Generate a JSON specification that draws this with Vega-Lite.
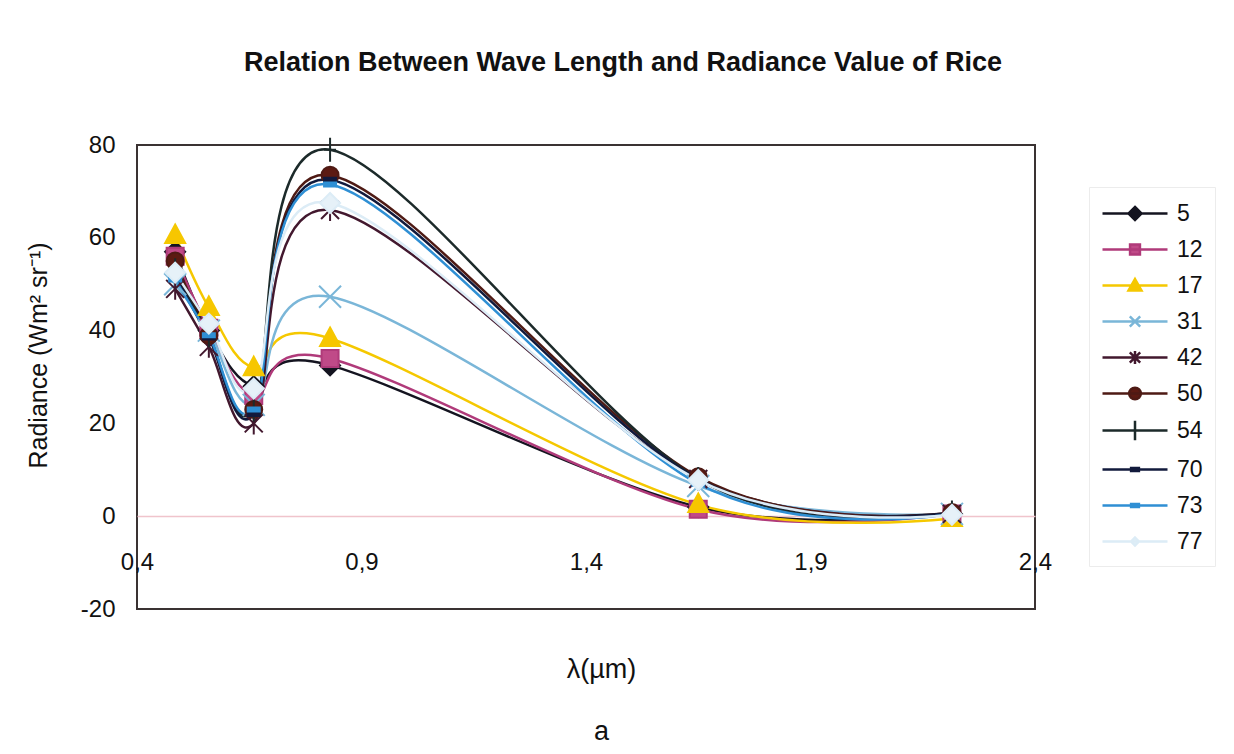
{
  "$schema": "https://vega.github.io/schema/vega-lite/v6.json",
  "width": 898,
  "height": 464,
  "autosize": "none",
  "padding": {"left": 137, "top": 145, "right": 199, "bottom": 145},
  "background": "white",
  "title": {
    "text": "Relation Between Wave Length and Radiance Value of Rice",
    "fontSize": 27,
    "fontWeight": "bold",
    "font": "Liberation Sans",
    "color": "#111111",
    "anchor": "middle",
    "baseline": "alphabetic",
    "offset": 35,
    "dx": 37
  },
  "config": {
    "font": "Liberation Sans",
    "view": {"stroke": "#3a3232", "strokeWidth": 2},
    "legend": {
      "orient": "none",
      "legendX": 952,
      "legendY": 42,
      "title": null,
      "symbolSize": 676,
      "symbolStrokeWidth": 2.5,
      "symbolOpacity": 1,
      "labelFontSize": 23,
      "labelColor": "#111111",
      "labelOffset": 47,
      "rowPadding": 9,
      "padding": 12,
      "strokeColor": "#ececec"
    }
  },
  "resolve": {
    "scale": {"stroke": "independent", "fill": "independent", "shape": "independent"},
    "legend": {"stroke": "independent", "fill": "independent", "shape": "independent"}
  },
  "data": {
    "values": [
      {"series": 5, "wl": 0.485, "rad": 57}, {"series": 5, "wl": 0.56, "rad": 40}, {"series": 5, "wl": 0.66, "rad": 28}, {"series": 5, "wl": 0.83, "rad": 32.5}, {"series": 5, "wl": 1.65, "rad": 2}, {"series": 5, "wl": 2.215, "rad": 0.5},
      {"series": 12, "wl": 0.485, "rad": 56}, {"series": 12, "wl": 0.56, "rad": 40.5}, {"series": 12, "wl": 0.66, "rad": 26}, {"series": 12, "wl": 0.83, "rad": 34}, {"series": 12, "wl": 1.65, "rad": 1.5}, {"series": 12, "wl": 2.215, "rad": 0.5},
      {"series": 17, "wl": 0.485, "rad": 60.5}, {"series": 17, "wl": 0.56, "rad": 45}, {"series": 17, "wl": 0.66, "rad": 32}, {"series": 17, "wl": 0.83, "rad": 38.3}, {"series": 17, "wl": 1.65, "rad": 2.5}, {"series": 17, "wl": 2.215, "rad": -0.5},
      {"series": 31, "wl": 0.485, "rad": 50}, {"series": 31, "wl": 0.56, "rad": 40}, {"series": 31, "wl": 0.66, "rad": 24}, {"series": 31, "wl": 0.83, "rad": 47.3}, {"series": 31, "wl": 1.65, "rad": 6.5}, {"series": 31, "wl": 2.215, "rad": 0.5},
      {"series": 42, "wl": 0.485, "rad": 49}, {"series": 42, "wl": 0.56, "rad": 36.5}, {"series": 42, "wl": 0.66, "rad": 20}, {"series": 42, "wl": 0.83, "rad": 66}, {"series": 42, "wl": 1.65, "rad": 8}, {"series": 42, "wl": 2.215, "rad": 0.5},
      {"series": 50, "wl": 0.485, "rad": 55}, {"series": 50, "wl": 0.56, "rad": 39}, {"series": 50, "wl": 0.66, "rad": 23}, {"series": 50, "wl": 0.83, "rad": 73.5}, {"series": 50, "wl": 1.65, "rad": 8.5}, {"series": 50, "wl": 2.215, "rad": 0.8},
      {"series": 54, "wl": 0.485, "rad": 53}, {"series": 54, "wl": 0.56, "rad": 39}, {"series": 54, "wl": 0.66, "rad": 23}, {"series": 54, "wl": 0.83, "rad": 79}, {"series": 54, "wl": 1.65, "rad": 8}, {"series": 54, "wl": 2.215, "rad": 0.8},
      {"series": 70, "wl": 0.485, "rad": 52}, {"series": 70, "wl": 0.56, "rad": 38.5}, {"series": 70, "wl": 0.66, "rad": 22}, {"series": 70, "wl": 0.83, "rad": 72.5}, {"series": 70, "wl": 1.65, "rad": 8}, {"series": 70, "wl": 2.215, "rad": 0.8},
      {"series": 73, "wl": 0.485, "rad": 51}, {"series": 73, "wl": 0.56, "rad": 39}, {"series": 73, "wl": 0.66, "rad": 23}, {"series": 73, "wl": 0.83, "rad": 71.5}, {"series": 73, "wl": 1.65, "rad": 7}, {"series": 73, "wl": 2.215, "rad": 0.5},
      {"series": 77, "wl": 0.485, "rad": 52.5}, {"series": 77, "wl": 0.56, "rad": 41.5}, {"series": 77, "wl": 0.66, "rad": 27.5}, {"series": 77, "wl": 0.83, "rad": 67.5}, {"series": 77, "wl": 1.65, "rad": 7.8}, {"series": 77, "wl": 2.215, "rad": 0.3}
    ]
  },
  "encoding": {
    "x": {
      "field": "wl",
      "type": "quantitative",
      "scale": {"domain": [0.4, 2.4], "nice": false, "zero": false},
      "axis": {
        "values": [0.4, 0.9, 1.4, 1.9, 2.4],
        "labelExpr": "replace(format(datum.value, '.1f'), '.', ',')",
        "offset": -93,
        "domainColor": "#f0c4cc",
        "domainWidth": 1.5,
        "ticks": false,
        "grid": false,
        "labelPadding": 34,
        "labelFontSize": 24,
        "labelColor": "#111111",
        "labelFlush": false,
        "labelOverlap": false,
        "title": ["λ(µm)", "a"],
        "titleFontSize": 27,
        "titleFontWeight": "normal",
        "titleColor": "#111111",
        "titlePadding": 82,
        "titleLineHeight": 62,
        "titleX": 464
      }
    },
    "y": {
      "field": "rad",
      "type": "quantitative",
      "scale": {"domain": [-20, 80], "nice": false, "zero": false},
      "axis": {
        "values": [-20, 0, 20, 40, 60, 80],
        "labelExpr": "datum.value + ''",
        "ticks": false,
        "domain": false,
        "grid": false,
        "labelPadding": 22,
        "labelFontSize": 24,
        "labelColor": "#111111",
        "title": "Radiance (Wm² sr⁻¹)",
        "titleFontSize": 25,
        "titleFontWeight": "normal",
        "titleColor": "#111111",
        "titlePadding": 29,
        "titleY": 210
      }
    }
  },
  "layer": [
    {
      "mark": {"type": "line", "interpolate": "cardinal", "tension": 0, "strokeWidth": 2.5},
      "encoding": {
        "stroke": {
          "field": "series",
          "type": "ordinal",
          "scale": {
            "domain": [5, 12, 17, 31, 42, 50, 54, 70, 73, 77],
            "range": ["#141420", "#b03a7a", "#f5c800", "#7ab6d8", "#42182e", "#4e1a14", "#1c2a2a", "#121a3c", "#2f8fd4", "#dcecf6"]
          },
          "legend": null
        }
      }
    },
    {
      "mark": {"type": "point", "size": 400, "strokeWidth": 2, "opacity": 1},
      "encoding": {
        "stroke": {
          "field": "series",
          "type": "ordinal",
          "scale": {
            "domain": [5, 12, 17, 31, 42, 50, 54, 70, 73, 77],
            "range": ["#141420", "#b03a7a", "#f5c800", "#7ab6d8", "#42182e", "#4e1a14", "#1c2a2a", "#121a3c", "#2f8fd4", "#dcecf6"]
          },
          "legend": null
        },
        "fill": {
          "field": "series",
          "type": "ordinal",
          "scale": {
            "domain": [5, 12, 17, 31, 42, 50, 54, 70, 73, 77],
            "range": ["#141420", "#c04a88", "#f7c600", "transparent", "transparent", "#5c1a12", "transparent", "#121a3c", "#2f8fd4", "#e6f1f8"]
          },
          "legend": null
        },
        "shape": {
          "field": "series",
          "type": "ordinal",
          "scale": {
            "domain": [5, 12, 17, 31, 42, 50, 54, 70, 73, 77],
            "range": [
              "M0,-1L1,0L0,1L-1,0Z",
              "M-0.85,-0.85H0.85V0.85H-0.85Z",
              "M0,-1.1L1,0.75H-1Z",
              "M-1.1,-1.1L1.1,1.1M1.1,-1.1L-1.1,1.1",
              "M-0.9,-0.9L0.9,0.9M0.9,-0.9L-0.9,0.9M0,-1.1V1.1",
              "M-0.85,0A0.85,0.85 0 1,0 0.85,0A0.85,0.85 0 1,0 -0.85,0Z",
              "M-0.6,0H0.6M0,-1.2V1.2",
              "M-0.6,-0.2H0.6V0.2H-0.6Z",
              "M-0.6,-0.2H0.6V0.2H-0.6Z",
              "M0,-1L1,0L0,1L-1,0Z"
            ]
          },
          "legend": null
        }
      }
    },
    {
      "mark": {"type": "point", "size": 10, "strokeWidth": 0, "opacity": 0},
      "encoding": {
        "stroke": {
          "field": "series",
          "type": "ordinal",
          "scale": {
            "domain": [5, 12, 17, 31, 42, 50, 54, 70, 73, 77],
            "range": ["#141420", "#b03a7a", "#f5c800", "#7ab6d8", "#42182e", "#4e1a14", "#1c2a2a", "#121a3c", "#2f8fd4", "#dcecf6"]
          }
        },
        "fill": {
          "field": "series",
          "type": "ordinal",
          "scale": {
            "domain": [5, 12, 17, 31, 42, 50, 54, 70, 73, 77],
            "range": ["#141420", "#c04a88", "#f7c600", "transparent", "transparent", "#5c1a12", "transparent", "#121a3c", "#2f8fd4", "#e6f1f8"]
          }
        },
        "shape": {
          "field": "series",
          "type": "ordinal",
          "scale": {
            "domain": [5, 12, 17, 31, 42, 50, 54, 70, 73, 77],
            "range": [
              "M-1,0H4M1.5,-0.5L2,0L1.5,0.5L1,0Z",
              "M-1,0H4M1.12,-0.38H1.88V0.38H1.12Z",
              "M-1,0H4M1.5,-0.5L2,0.38H1Z",
              "M-1,0H4M1.1,-0.4L1.9,0.4M1.9,-0.4L1.1,0.4",
              "M-1,0H4M1.1,-0.4L1.9,0.4M1.9,-0.4L1.1,0.4M1.5,-0.5V0.5",
              "M-1,0H4M1.05,0A0.45,0.45 0 1,0 1.95,0A0.45,0.45 0 1,0 1.05,0Z",
              "M-1,0H4M1.5,-0.75V0.75",
              "M-1,0H4M1.2,-0.12H1.8V0.12H1.2Z",
              "M-1,0H4M1.2,-0.12H1.8V0.12H1.2Z",
              "M-1,0H4M1.5,-0.3L1.8,0L1.5,0.3L1.2,0Z"
            ]
          }
        }
      }
    }
  ]
}
